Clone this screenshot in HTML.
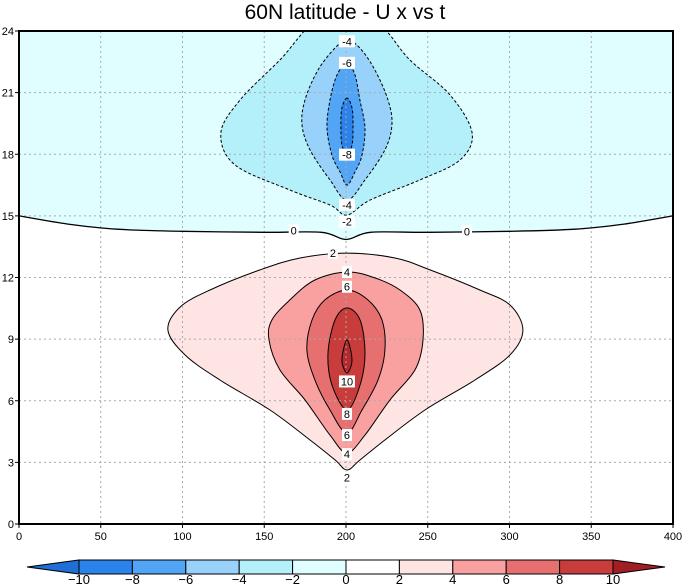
<!DOCTYPE html>
<html><head><meta charset="utf-8"><style>
body{margin:0;background:#fff;width:683px;height:588px;overflow:hidden}
svg{display:block;font-family:"Liberation Sans",sans-serif}
</style></head><body>
<svg id="c" width="683" height="588" viewBox="0 0 683 588">
<text x="345" y="19" text-anchor="middle" font-size="21">60N latitude - U x vs t</text>
</svg>
<script>
// ---- data (x in 0..400, t in 0..24) ----
const xTicks=[0,50,100,150,200,250,300,350,400];
const yTicks=[0,3,6,9,12,15,18,21,24];
const levels=[-10,-8,-6,-4,-2,0,2,4,6,8,10];
const zeroLine=[[0,15.0],[30,14.6],[60,14.35],[100,14.25],[150,14.2],[185,14.2],[200,13.85],[215,14.2],[250,14.2],[300,14.25],[340,14.35],[370,14.6],[400,15.0]];
const cNeg2=[[184.1,24.6],[159.6,22.59],[135.2,20.64],[123.5,19.04],[132.1,17.48],[165.7,16.26],[190.2,15.53],[200.6,15.04],[214.7,15.77],[245.2,16.75],[269.7,17.72],[277.1,19.04],[263.6,20.89],[239.1,22.59],[215.9,24.6]];
const cNeg4=[[200.6,23.56],[193.3,23.17],[182.9,22.10],[174.9,20.64],[173.1,19.43],[178.0,18.21],[190.2,16.75],[200.6,15.77],[211.6,16.75],[223.8,18.21],[228.1,19.43],[225.7,20.64],[217.7,22.10],[208.5,23.17]];
const cNeg6=[[200.6,22.44],[194.5,21.86],[190.2,20.64],[188.4,19.28],[191.4,17.96],[196.3,17.14],[200.6,16.50],[205.5,17.14],[209.8,17.96],[211.6,19.28],[208.5,20.64],[205.5,21.86]];
const cNeg8=[[200.6,20.74],[197.5,20.25],[196.9,19.43],[197.5,18.45],[200.6,18.06],[203.7,18.45],[204.3,19.43],[203.7,20.25]];
const cPos2=[[200.6,13.19],[171.9,12.95],[147.4,12.37],[116.8,11.39],[98.5,10.56],[91.1,9.44],[101.5,8.23],[122.9,7.01],[153.5,5.55],[178.0,4.09],[193.3,3.12],[200.6,2.63],[208.6,3.12],[223.8,4.09],[248.3,5.55],[278.9,7.01],[300.3,8.23],[308.2,9.44],[300.3,10.66],[281.9,11.39],[251.4,12.37],[230.0,12.95]];
const cPos4=[[200.6,12.27],[181.0,11.88],[165.7,10.91],[154.7,9.93],[152.9,8.96],[159.6,7.50],[174.9,6.04],[190.2,4.33],[200.6,3.46],[211.6,4.33],[226.9,6.04],[242.2,7.50],[247.1,8.96],[245.2,10.42],[233.0,11.39],[217.7,11.98]];
const cPos6=[[200.6,11.39],[187.1,10.91],[179.2,9.93],[176.1,8.47],[181.0,7.01],[190.2,5.55],[200.6,4.43],[209.8,5.55],[219.6,7.01],[223.8,8.47],[222.0,9.93],[213.4,10.91]];
const cPos8=[[200.6,10.52],[193.3,9.93],[189.0,8.33],[191.4,6.77],[200.6,5.55],[208.6,6.77],[211.6,8.33],[208.6,9.93]];
const cPos10=[[200.6,8.96],[197.5,7.98],[200.6,7.35],[203.7,7.98]];
const labelText=["-4","-6","-8","-4","-2","0","0","2","4","6","10","8","6","4","2"];
const labelX=[200.6,200.6,200.6,200.6,200.6,168,274,192,200.6,200.6,200.6,200.6,200.6,200.6,200.6];
const labelT=[23.5,22.45,17.98,15.54,14.72,14.3,14.25,13.2,12.27,11.55,6.94,5.36,4.33,3.4,2.27];

const NS="http://www.w3.org/2000/svg";
const svg=document.getElementById('c');
const X0=19,X1=673,Y0=524,Y1=31;
const sx=v=>X0+(v-0)/(400-0)*(X1-X0);
const sy=v=>Y0-(v-0)/(24-0)*(Y0-Y1);
function mk(tag,attrs,parent){const e=document.createElementNS(NS,tag);for(const k in attrs)e.setAttribute(k,attrs[k]);(parent||svg).appendChild(e);return e;}
function smooth(pts,closed){
  const p=pts.map(d=>[sx(d[0]),sy(d[1])]);const n=p.length;
  let s="M"+p[0][0].toFixed(1)+","+p[0][1].toFixed(1);
  const seg=closed?n:n-1;
  for(let i=0;i<seg;i++){
    const p0=p[closed?(i-1+n)%n:Math.max(i-1,0)],p1=p[i],p2=p[(i+1)%n],p3=p[closed?(i+2)%n:Math.min(i+2,n-1)];
    const c1=[p1[0]+(p2[0]-p0[0])/6,p1[1]+(p2[1]-p0[1])/6],c2=[p2[0]-(p3[0]-p1[0])/6,p2[1]-(p3[1]-p1[1])/6];
    s+=`C${c1[0].toFixed(1)},${c1[1].toFixed(1)} ${c2[0].toFixed(1)},${c2[1].toFixed(1)} ${p2[0].toFixed(1)},${p2[1].toFixed(1)}`;
  }
  return closed?s+"Z":s;
}
const defs=mk('defs',{});
const cp=mk('clipPath',{id:'pc'},defs);
mk('rect',{x:X0,y:Y1,width:X1-X0,height:Y0-Y1},cp);
const g=mk('g',{'clip-path':'url(#pc)'});


// zero region fill
const zp=smooth(zeroLine,false)+`L${sx(400)},${Y1}L${sx(0)},${Y1}Z`;
const zf=mk('path',{d:zp,fill:'#e0feff'},g);


const fills=[[cNeg2,'#b4f0f9','neg2'],[cNeg4,'#98d2fa','neg4'],[cNeg6,'#52a5f5','neg6'],[cNeg8,'#2a82ea','neg8'],[cPos2,'#ffe4e4','pos2'],[cPos4,'#f9a1a1','pos4'],[cPos6,'#e66f6f','pos6'],[cPos8,'#c93c3c','pos8'],[cPos10,'#b52a2e','pos10']];
fills.forEach(f=>{const e=mk('path',{d:smooth(f[0],true),fill:f[1]},g);
  
  });
// grid
xTicks.slice(1,-1).forEach(v=>{const l=mk('line',{x1:sx(v),x2:sx(v),y1:Y1,y2:Y0,stroke:'#aaa','stroke-dasharray':'2,3'},g);
  
  });
yTicks.slice(1,-1).forEach(v=>{const l=mk('line',{x1:X0,x2:X1,y1:sy(v),y2:sy(v),stroke:'#aaa','stroke-dasharray':'2,3'},g);
  
  });
// contour lines
fills.forEach(f=>{const neg=f[2].startsWith('neg');const e=mk('path',{d:smooth(f[0],true),fill:'none',stroke:'#000','stroke-width':1,'stroke-dasharray':neg?'3,2':'none'},g);
  
  });
const zl=mk('path',{d:smooth(zeroLine,false),fill:'none',stroke:'#000','stroke-width':1.3},g);


// labels
labelText.forEach((t,i)=>{const x=sx(labelX[i]),y=sy(labelT[i]);const w=t.length*6+4;
  mk('rect',{x:x-w/2,y:y-6,width:w,height:12,fill:'#fff'},g);
  const e=mk('text',{x:x,y:y+4,'text-anchor':'middle','font-size':11},g);e.textContent=t;
  
  });
// frame
const fr=mk('rect',{x:X0,y:Y1,width:X1-X0,height:Y0-Y1,fill:'none',stroke:'#000','stroke-width':2});


xTicks.forEach(v=>{mk('line',{x1:sx(v),x2:sx(v),y1:Y0,y2:Y0+4,stroke:'#000'});
  const t=mk('text',{x:sx(v),y:Y0+16,'text-anchor':'middle','font-size':11});t.textContent=v;
  
  });
yTicks.forEach(v=>{mk('line',{x1:X0-4,x2:X0,y1:sy(v),y2:sy(v),stroke:'#000'});
  const t=mk('text',{x:X0-5,y:sy(v)+4,'text-anchor':'end','font-size':11});t.textContent=v;
  
  });
// colorbar
const cbCols=['#2a82ea','#52a5f5','#98d2fa','#b4f0f9','#e0feff','#ffffff','#ffe4e4','#f9a1a1','#e66f6f','#c93c3c'];
const CB0=79,CB1=613,CBy=560,CBh=14,bw=(CB1-CB0)/cbCols.length;
const cb=mk('g',{});


mk('polygon',{points:`${CB0},${CBy} ${CB0},${CBy+CBh} 27,${CBy+CBh/2}`,fill:'#1e6fd6',stroke:'#000'},cb);
mk('polygon',{points:`${CB1},${CBy} ${CB1},${CBy+CBh} 665,${CBy+CBh/2}`,fill:'#a11f24',stroke:'#000'},cb);
cbCols.forEach((c,i)=>{const r=mk('rect',{x:CB0+i*bw,y:CBy,width:bw,height:CBh,fill:c,stroke:'#000'},cb);
  
  });
levels.forEach((v,i)=>{const t=mk('text',{x:CB0+i*bw,y:584,'text-anchor':'middle','font-size':13},cb);t.textContent=v<0?'\u2212'+(-v):v;
  
  });
</script>
</body></html>
